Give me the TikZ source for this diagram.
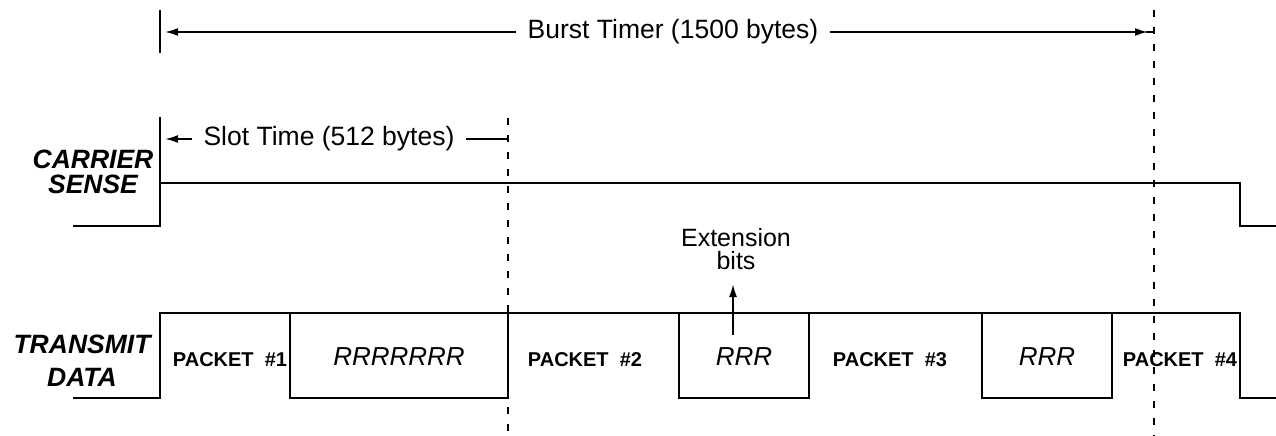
\documentclass[tikz,border=0pt]{standalone}
\usepackage{fontspec}
\setmainfont{Liberation Sans}
\usetikzlibrary{arrows.meta}

\begin{document}
\begin{tikzpicture}[x=1pt, y=-1pt, line width=1.9pt,
    tip/.style={-{Latex[length=13pt,width=8pt]}},
    guide/.style={dash pattern=on 7pt off 10pt},
    lbl/.style={font=\fontsize{26.5}{20}\selectfont, inner xsep=11pt},
    sig/.style={font=\fontsize{26.5}{25}\selectfont\bfseries\itshape, align=center, inner sep=0pt},
    pkt/.style={font=\fontsize{20}{20}\selectfont\bfseries, inner sep=0pt},
    rbits/.style={font=\fontsize{26}{26}\selectfont\itshape, inner sep=0pt}]
		\useasboundingbox (0,0) rectangle (1276,436);
		
		% Mark start, slot end and burst end
		\coordinate (bTop) at (160,10);
		\coordinate (bBot) at (160,53);
		\coordinate (bL) at (160,32);
		\coordinate (bR) at (1154,32);
		\coordinate (sL) at (160,139);
		\coordinate (sR) at (508,139);
		\draw (bTop) -- (bBot);
		\draw[guide] (508,118) -- (508,436);
		\draw[guide] (1154,10) -- (1154,436);
		
		% Burst timer
		\node[lbl] (burst) at (673,32) {Burst Timer (1500 bytes)};
		\draw[tip, shorten >=5pt] (burst) -- (bL);
		\draw[tip, shorten >=6pt] (burst) -- (bR);
		\draw (1146,32) -- (bR);
		
		% Slot time
		\node[lbl] (slot) at (329,139) {Slot Time (512 bytes)};
		\draw[tip, shorten >=5pt] (slot) -- (sL);
		\draw (slot) -- (sR);
		
		% Signal names
		\node[sig] (cs) at (93,172) {CARRIER\\SENSE};
		\node[sig] (td) at (82,361) {TRANSMIT\\[8pt]DATA};
		
		% Carrier sense line
		\draw (160,117) -- (160,183);
		\draw (73,226) -- (160,226) -- (160,183) -- (1240,183) -- (1240,226) -- (1276,226);
		
		% Transmit data line
		\draw (73,398) -- (160,398) -- (160,313) -- (1240,313) -- (1240,398) -- (1276,398);
		\foreach \a/\b in {290/508, 679/809, 982/1112}
		\draw (\a,313) rectangle (\b,398);
		
		% Packets and extension bits
		\foreach \x/\n in {230/1, 585/2, 890/3, 1180/4}
		\node[pkt] (p\n) at (\x,360) {PACKET\ \ \#\n};
		\node[rbits] (r1) at (399,357) {RRRRRRR};
		\node[rbits] (r2) at (744,357) {RRR};
		\node[rbits] (r3) at (1047,357) {RRR};
		
		% Extension bits label
		\node[font=\fontsize{25}{23}\selectfont, align=center, inner sep=0pt] (ext) at (736,249) {Extension\\bits};
		\coordinate (extFoot) at (733,335);
		\coordinate (extTip) at (733,284);
		\draw[tip] (extFoot) -- (extTip);
	\end{tikzpicture}
\end{document}
